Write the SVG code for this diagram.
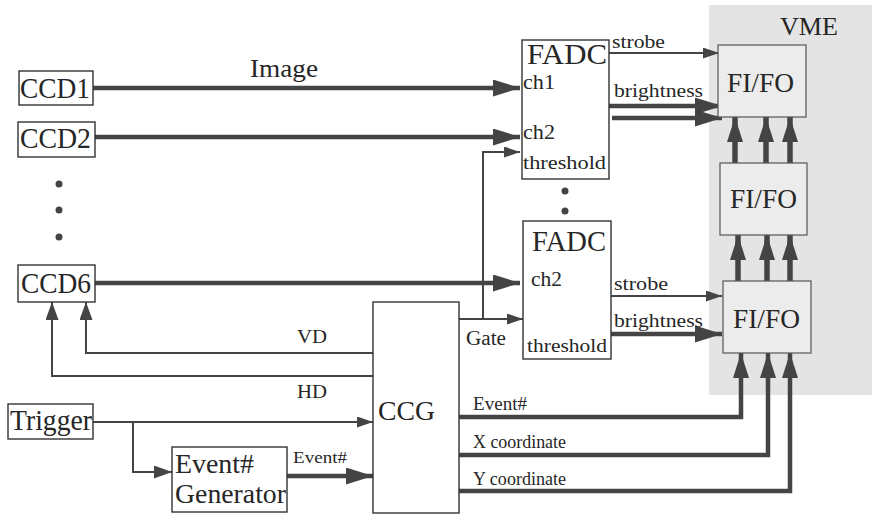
<svg xmlns="http://www.w3.org/2000/svg" width="874" height="515" viewBox="0 0 874 515">
<style>
text{font-family:"Liberation Serif","Times New Roman",serif;fill:#262626;}
.box{fill:#fff;stroke:#333;stroke-width:1.4;}
.fifo{fill:#ececec;stroke:#555;stroke-width:1.2;}
.thin{fill:none;stroke:#444;stroke-width:2;}
.thick{fill:none;stroke:#444;stroke-width:4.5;}
.up{fill:none;stroke:#444;stroke-width:5.5;}
.dot{fill:#444;}
</style>
<defs>
<marker id="ah" markerUnits="userSpaceOnUse" markerWidth="27" markerHeight="17" refX="27" refY="8.5" orient="auto"><path d="M0,0 L27,8.5 L0,17 z" fill="#444"/></marker>
<marker id="at" markerUnits="userSpaceOnUse" markerWidth="16" markerHeight="11" refX="16" refY="5.5" orient="auto"><path d="M0,0 L16,5.5 L0,11 z" fill="#444"/></marker>
<marker id="am" markerUnits="userSpaceOnUse" markerWidth="18" markerHeight="13" refX="18" refY="6.5" orient="auto"><path d="M0,0 L18,6.5 L0,13 z" fill="#444"/></marker>
<marker id="au" markerUnits="userSpaceOnUse" markerWidth="25" markerHeight="16" refX="25" refY="8" orient="auto"><path d="M0,0 L25,8 L0,16 z" fill="#444"/></marker>
</defs>

<g id="vme">
<rect x="709" y="5" width="163" height="390" fill="#e4e4e4"/>
<text x="780" y="35" font-size="26" textLength="58" lengthAdjust="spacingAndGlyphs">VME</text>
</g>

<g id="connectors">
<path class="thick" d="M93,88 H520" marker-end="url(#ah)"/>
<path class="thick" d="M95,137 H520" marker-end="url(#ah)"/>
<path class="thick" d="M95,283 H520" marker-end="url(#ah)"/>
<path class="thin" d="M483,319 V152 H520" marker-end="url(#at)"/>
<path class="thin" d="M459,319 H523" marker-end="url(#at)"/>
<path class="thin" d="M609,53 H719" marker-end="url(#at)"/>
<path class="thick" d="M609,106 H722" marker-end="url(#ah)"/>
<path class="thick" d="M612,118 H722" marker-end="url(#ah)"/>
<path class="thin" d="M611,296 H722" marker-end="url(#at)"/>
<path class="thick" d="M611,334 H722" marker-end="url(#ah)"/>
<path class="up" d="M735,163 V117" marker-end="url(#au)"/>
<path class="up" d="M766,163 V117" marker-end="url(#au)"/>
<path class="up" d="M790,163 V117" marker-end="url(#au)"/>
<path class="up" d="M738,281 V235" marker-end="url(#au)"/>
<path class="up" d="M767,281 V235" marker-end="url(#au)"/>
<path class="up" d="M790,281 V235" marker-end="url(#au)"/>
<path class="thick" d="M459,417 H741 V353" marker-end="url(#au)"/>
<path class="thick" d="M459,455 H768 V353" marker-end="url(#au)"/>
<path class="thick" d="M459,491 H790 V353" marker-end="url(#au)"/>
<path class="thin" d="M373,353 H86 V302" marker-end="url(#am)"/>
<path class="thin" d="M373,376 H52 V302" marker-end="url(#am)"/>
<path class="thin" d="M93,422 H373" marker-end="url(#at)"/>
<path class="thin" d="M133,422 V472 H172" marker-end="url(#am)"/>
<path class="thick" d="M287,476 H373" marker-end="url(#ah)"/>
<text x="250" y="77" font-size="26" textLength="68" lengthAdjust="spacingAndGlyphs">Image</text>
<text x="612" y="48" font-size="18" textLength="53" lengthAdjust="spacingAndGlyphs">strobe</text>
<text x="614" y="97" font-size="19" textLength="89" lengthAdjust="spacingAndGlyphs">brightness</text>
<text x="614" y="290" font-size="18" textLength="54" lengthAdjust="spacingAndGlyphs">strobe</text>
<text x="614" y="327" font-size="19" textLength="89" lengthAdjust="spacingAndGlyphs">brightness</text>
<text x="466" y="345" font-size="20" textLength="40" lengthAdjust="spacingAndGlyphs">Gate</text>
<text x="297" y="343" font-size="18" textLength="30" lengthAdjust="spacingAndGlyphs">VD</text>
<text x="297" y="398" font-size="18" textLength="30" lengthAdjust="spacingAndGlyphs">HD</text>
<text x="293" y="463" font-size="17" textLength="54" lengthAdjust="spacingAndGlyphs">Event#</text>
<text x="473" y="410" font-size="18" textLength="54" lengthAdjust="spacingAndGlyphs">Event#</text>
<text x="473" y="448" font-size="18" textLength="93" lengthAdjust="spacingAndGlyphs">X coordinate</text>
<text x="473" y="485" font-size="18" textLength="93" lengthAdjust="spacingAndGlyphs">Y coordinate</text>
</g>

<g id="ccd1"><rect class="box" x="19" y="71" width="74" height="34"/><text x="20" y="98" font-size="30" textLength="70" lengthAdjust="spacingAndGlyphs">CCD1</text></g>
<g id="ccd2"><rect class="box" x="18" y="122" width="77" height="35"/><text x="20" y="148" font-size="30" textLength="71" lengthAdjust="spacingAndGlyphs">CCD2</text></g>
<g id="dots-ccd"><circle class="dot" cx="59" cy="184" r="3.5"/><circle class="dot" cx="59" cy="210" r="3.5"/><circle class="dot" cx="59" cy="237" r="3.5"/></g>
<g id="ccd6"><rect class="box" x="18" y="265" width="77" height="37"/><text x="21" y="293" font-size="30" textLength="70" lengthAdjust="spacingAndGlyphs">CCD6</text></g>
<g id="trigger"><rect class="box" x="8" y="404" width="85" height="35"/><text x="10" y="430" font-size="29" textLength="82" lengthAdjust="spacingAndGlyphs">Trigger</text></g>
<g id="eventgen"><rect class="box" x="172" y="447" width="115" height="65"/><text x="175" y="473" font-size="27" textLength="79" lengthAdjust="spacingAndGlyphs">Event#</text><text x="175" y="503" font-size="27" textLength="111" lengthAdjust="spacingAndGlyphs">Generator</text></g>
<g id="ccg"><rect class="box" x="373" y="302" width="86" height="211"/><text x="378" y="420" font-size="28" textLength="57" lengthAdjust="spacingAndGlyphs">CCG</text></g>
<g id="fadc1"><rect class="box" x="522" y="40" width="87" height="139"/>
<text x="527" y="64" font-size="30" textLength="80" lengthAdjust="spacingAndGlyphs">FADC</text>
<text x="523" y="89" font-size="20" textLength="32" lengthAdjust="spacingAndGlyphs">ch1</text>
<text x="523" y="139" font-size="20" textLength="32" lengthAdjust="spacingAndGlyphs">ch2</text>
<text x="523" y="169" font-size="18" textLength="83" lengthAdjust="spacingAndGlyphs">threshold</text></g>
<g id="dots-fadc"><circle class="dot" cx="565" cy="191" r="3.5"/><circle class="dot" cx="565" cy="211" r="3.5"/></g>
<g id="fadc2"><rect class="box" x="523" y="221" width="88" height="138"/>
<text x="532" y="251" font-size="30" textLength="74" lengthAdjust="spacingAndGlyphs">FADC</text>
<text x="531" y="286" font-size="20" textLength="31" lengthAdjust="spacingAndGlyphs">ch2</text>
<text x="527" y="352" font-size="19" textLength="80" lengthAdjust="spacingAndGlyphs">threshold</text></g>
<g id="fifo1"><rect class="fifo" x="718" y="45" width="88" height="72"/><text x="727" y="92" font-size="27" textLength="67" lengthAdjust="spacingAndGlyphs">FI/FO</text></g>
<g id="fifo2"><rect class="fifo" x="720" y="163" width="87" height="72"/><text x="730" y="208" font-size="27" textLength="67" lengthAdjust="spacingAndGlyphs">FI/FO</text></g>
<g id="fifo3"><rect class="fifo" x="723" y="281" width="88" height="72"/><text x="733" y="328" font-size="27" textLength="67" lengthAdjust="spacingAndGlyphs">FI/FO</text></g>
</svg>
